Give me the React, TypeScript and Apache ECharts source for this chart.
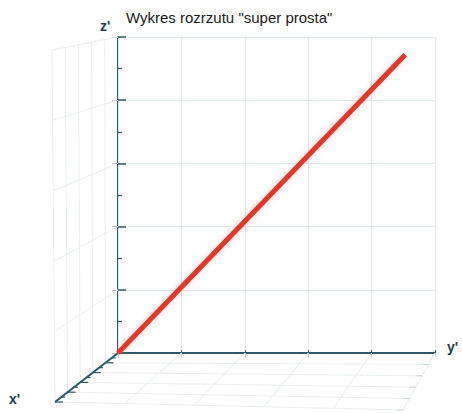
import React, { useEffect, useRef } from "react";
import * as echarts from "echarts";

// ---- data ----
const titleText = 'Wykres rozrzutu "super prosta"';
const axisNames = ["x'", "y'", "z'"];
const xTicks = [0, 1, 2, 3, 4, 5]; // x' (depth) major ticks
const yTicks = [0, 1, 2, 3, 4, 5]; // y' (horizontal) ticks
const zTicks = [0, 1, 2, 3, 4, 5]; // z' (vertical) ticks
// the "super prosta" line, in the back (y', z') plane
const lineY = [0, 4.53];
const lineZ = [0, 4.72];

// corners of the depth (x') face in back-wall data units [y', z']
const CORNER_BB = [0, 0];
const CORNER_BT = [0, 5];
const CORNER_BR = [5, 0];
const CORNER_BTR = [5, 5];
const CORNER_FB = [-0.994, -0.775];
const CORNER_FT = [-1.041, 4.794];
const CORNER_FBR = [4.495, -0.902];
const CORNER_FTR = [4.45, 5.2];

const AXIS_COLOR = "#2d5866";
const GRID_COLOR = "#e0e9ee";
const FAINT_COLOR = "#e9eff2";
const LABEL_COLOR = "#1f3d4a";

function lerp(a: number[], b: number[], t: number) {
  return [a[0] + (b[0] - a[0]) * t, a[1] + (b[1] - a[1]) * t];
}

// trilinear mapping of (x', y', z') into back-wall data coords
function proj(x: number, y: number, z: number) {
  const s = x / 5, u = y / 5, t = z / 5;
  const back = lerp(lerp(CORNER_BB, CORNER_BR, u), lerp(CORNER_BT, CORNER_BTR, u), t);
  const front = lerp(lerp(CORNER_FB, CORNER_FBR, u), lerp(CORNER_FT, CORNER_FTR, u), t);
  return lerp(back, front, s);
}

export default function App() {
  const ref = useRef<HTMLDivElement>(null);
  useEffect(() => {
    document.body.style.margin = "0";
    const chart = echarts.init(ref.current!, null, { renderer: "svg" });
    const font = "Liberation Sans, Arial, sans-serif";

    const renderDepth = (params: any, api: any) => {
      const pt = (x: number, y: number, z: number) => api.coord(proj(x, y, z));
      const children: any[] = [];
      const seg = (a: number[], b: number[], color: string, width: number) => {
        children.push({
          type: "line",
          shape: { x1: a[0], y1: a[1], x2: b[0], y2: b[1] },
          style: { stroke: color, lineWidth: width },
          silent: true,
        });
      };
      // left wall (y' = 0)
      xTicks.slice(1).forEach((x) => seg(pt(x, 0, 0), pt(x, 0, 5), FAINT_COLOR, 1));
      zTicks.slice(1).forEach((z) => seg(pt(0, 0, z), pt(5, 0, z), FAINT_COLOR, 1));
      // floor (z' = 0)
      xTicks.slice(1).forEach((x) => seg(pt(x, 0, 0), pt(x, 5, 0), FAINT_COLOR, 1));
      yTicks.slice(1).forEach((y) => seg(pt(0, y, 0), pt(5, y, 0), FAINT_COLOR, 1));
      // floor right-end ticks
      xTicks.slice(1).forEach((x) => {
        const p = pt(x, 5, 0);
        seg([p[0] - 6, p[1]], p, "#c9d6dc", 1);
      });
      // x' axis
      seg(pt(0, 0, 0), pt(5, 0, 0), AXIS_COLOR, 2);
      for (let k = 1; k <= 10; k++) {
        const p = pt(k / 2, 0, 0);
        const len = k % 2 === 0 ? 8 : 4;
        seg(p, [p[0] + len, p[1]], AXIS_COLOR, 1.2);
      }
      return { type: "group", children };
    };

    chart.setOption({
      animation: false,
      backgroundColor: "#ffffff",
      title: {
        text: titleText,
        left: 121,
        top: 5,
        textStyle: { fontFamily: font, fontSize: 15, fontWeight: "normal", color: "#1a1a1a" },
      },
      grid: { left: 118, top: 37, width: 317, height: 316 },
      xAxis: [
        {
          type: "value",
          min: 0,
          max: 5,
          interval: 1,
          axisLine: { show: true, lineStyle: { color: AXIS_COLOR, width: 2 } },
          axisTick: { show: true, inside: true, length: 3, lineStyle: { color: AXIS_COLOR } },
          axisLabel: { show: false },
          splitLine: { show: true, lineStyle: { color: GRID_COLOR, width: 1 } },
        },
        {
          type: "value",
          position: "top",
          min: 0,
          max: 5,
          interval: 1,
          axisLine: { show: false },
          axisTick: { show: true, inside: true, length: 4, lineStyle: { color: "#cfdbe1" } },
          axisLabel: { show: false },
          splitLine: { show: false },
        },
      ],
      yAxis: [
        {
          type: "value",
          min: 0,
          max: 5,
          interval: 1,
          axisLine: { show: true, lineStyle: { color: AXIS_COLOR, width: 2 } },
          axisTick: { show: true, inside: true, length: 8, lineStyle: { color: AXIS_COLOR, width: 1.5 } },
          minorTick: { show: true, splitNumber: 2, length: 4, lineStyle: { color: AXIS_COLOR, width: 1.2 } },
          axisLabel: { show: false },
          splitLine: { show: true, lineStyle: { color: GRID_COLOR, width: 1 } },
        },
        {
          type: "value",
          position: "right",
          min: 0,
          max: 5,
          interval: 1,
          axisLine: { show: true, lineStyle: { color: GRID_COLOR, width: 1 } },
          axisTick: { show: true, inside: true, length: 6, lineStyle: { color: "#b9c9d0" } },
          axisLabel: { show: false },
          splitLine: { show: false },
        },
      ],
      series: [
        {
          type: "custom",
          coordinateSystem: "cartesian2d",
          data: [[0, 0]],
          clip: false,
          silent: true,
          z: 1,
          renderItem: renderDepth,
        },
        {
          type: "line",
          data: lineY.map((y, i) => [y, lineZ[i]]),
          showSymbol: false,
          clip: false,
          z: 5,
          lineStyle: {
            color: "#e0392b",
            width: 5,
            shadowBlur: 6,
            shadowColor: "rgba(240,110,100,0.35)",
          },
        },
      ],
      graphic: [
        {
          type: "text",
          left: 100,
          top: 19,
          style: { text: axisNames[2], fontFamily: font, fontSize: 14, fontWeight: "bold", fill: LABEL_COLOR },
        },
        {
          type: "text",
          left: 9,
          top: 392,
          style: { text: axisNames[0], fontFamily: font, fontSize: 14, fontWeight: "bold", fill: LABEL_COLOR },
        },
        {
          type: "text",
          left: 447,
          top: 340,
          style: { text: axisNames[1], fontFamily: font, fontSize: 14, fontWeight: "bold", fill: LABEL_COLOR },
        },
      ],
    });
    return () => chart.dispose();
  }, []);
  return <div ref={ref} style={{ width: 462, height: 413 }} />;
}
